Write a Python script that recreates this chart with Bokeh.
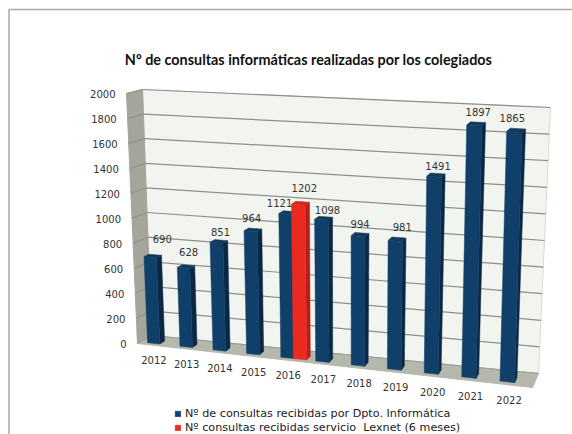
from bokeh.plotting import figure
from bokeh.embed import file_html
from bokeh.resources import INLINE
from bokeh.models import Range1d, Legend, LegendItem
from bokeh.core.properties import value as bv

title_text = "Nº de consultas informáticas realizadas por los colegiados"
years = ["2012","2013","2014","2015","2016","2017","2018","2019","2020","2021","2022"]
blue_values = [690,628,851,964,1121,1098,994,981,1491,1897,1865]
red_year = "2016"
red_value = 1202
y_ticks = [0,200,400,600,800,1000,1200,1400,1600,1800,2000]
blue_name = "Nº de consultas recibidas por Dpto. Informática"
red_name = "Nº consultas recibidas servicio  Lexnet (6 meses)"

# ----- layout (page pixels) -----
W, H = 572, 434
FBL, FBR, FTL, FTR = (137,343), (532,387), (126,93), (540,117)
BBL, BBR, BTL, BTR = (151,335), (538,373), (142,89), (550,107)
VMAX = 2000
T0, T1, K = 0.0184, 0.9537, 1.1
BAR_W, D0, D1 = 0.38, 0.20, 0.55

def lerp(a, b, t):
    return (a[0]+(b[0]-a[0])*t, a[1]+(b[1]-a[1])*t)

def warp(t):
    s = t/10.4
    return T0+(T1-T0)*s/(s+K*(1-s))

def proj_u(u, v, d):
    """u along the category edge (0-1), v value, d depth (0 front, 1 back)."""
    f = lerp(lerp(FBL, FBR, u), lerp(FTL, FTR, u), v/VMAX)
    b = lerp(lerp(BBL, BBR, u), lerp(BTL, BTR, u), v/VMAX)
    return lerp(f, b, d)

def proj(t, v, d):
    return proj_u(warp(t), v, d)

def quad(pts):
    return [q[0] for q in pts], [q[1] for q in pts]

p = figure(width=W, height=H, output_backend="svg", toolbar_location=None,
           x_range=Range1d(0, W), y_range=Range1d(H, 0), min_border=0)
p.axis.visible = False
p.grid.visible = False
p.outline_line_color = None
p.background_fill_color = "white"
p.border_fill_color = "white"

# outer frame
p.line([8.5,8.5,W],[H,9,9], line_color="#a8a8a8", line_width=1.5)

# walls and floor
xs,ys = quad([proj_u(0,0,1),proj_u(1,0,1),proj_u(1,VMAX,1),proj_u(0,VMAX,1)])
p.patch(xs,ys,fill_color="#f2f5ef",line_color="#d8dad4",line_width=1)
xs,ys = quad([proj_u(0,0,0),proj_u(0,0,1),proj_u(0,VMAX,1),proj_u(0,VMAX,0)])
p.patch(xs,ys,fill_color="#a5a59b",line_color="#a5a59b",line_width=1)
xs,ys = quad([proj_u(0,0,0),proj_u(1,0,0),proj_u(1,0,1),proj_u(0,0,1)])
p.patch(xs,ys,fill_color="#b5b8ad",line_color="#b5b8ad",line_width=1)

# gridlines
for t in y_ticks:
    a, b, c = proj_u(0,t,0), proj_u(0,t,1), proj_u(1,t,1)
    if t:
        p.line([a[0],b[0]],[a[1],b[1]],line_color="#8c8c84",line_width=1)
        p.line([b[0],c[0]],[b[1],c[1]],line_color="#8f8f88",line_width=1.2)
    else:
        p.line([a[0],b[0],c[0]],[a[1],b[1],c[1]],line_color="#9a9a92",line_width=1)

def bar(t, v, front, side, top):
    a = proj(t,0,D0); b = proj(t+BAR_W,0,D0); c = proj(t+BAR_W,v,D0); d = proj(t,v,D0)
    e = proj(t+BAR_W,0,D1); f = proj(t+BAR_W,v,D1); g = proj(t,v,D1)
    xs,ys = quad([b,e,f,c]); p.patch(xs,ys,fill_color=side,line_color=side,line_width=0.5)
    xs,ys = quad([d,c,f,g]); p.patch(xs,ys,fill_color=top,line_color=top,line_width=0.5)
    xs,ys = quad([a,b,c,d])
    return p.patch(xs,ys,fill_color=front,line_color=front,line_width=0.5)

BLUE, RED = "#10406a", "#ea2a20"
blue_r = None
red_r = None
for i,(yr,v) in enumerate(zip(years,blue_values)):
    r = bar(i, v, BLUE, "#0a2744", "#12385c")
    blue_r = blue_r or r
    if yr == red_year:
        red_r = bar(i+0.36, red_value, RED, "#b51f1a", "#d0261e")

FONT = bv("DejaVu Sans")
# value axis labels
p.text([proj_u(0,t,0)[0] for t in y_ticks],[proj_u(0,t,0)[1] for t in y_ticks],
       text=[str(t) for t in y_ticks], text_font=FONT, text_font_size="10px", text_color="#333333",
       text_align="right", text_baseline="middle", x_offset=-11, y_offset=0)

# year labels
for i,yr in enumerate(years):
    x,y = proj(i+BAR_W/2,0,0)
    p.text([x],[y],text=[yr],text_font=FONT,text_font_size="10px",text_color="#333333",
           text_align="center",text_baseline="middle",x_offset=3,y_offset=15.5)

# data labels (nudges)
label_dx = [12,5,4,1,-6,6,2,7,4,4,-2]
label_dy = [-18,-16,-11,-13,-11,-10,-12,-14,-11,-13,-14]
for i,v in enumerate(blue_values):
    x,y = proj(i+BAR_W/2,v,D0)
    p.text([x],[y],text=[str(v)],text_font=FONT,text_font_size="10px",text_color="#333333",
           text_align="center",text_baseline="middle",x_offset=label_dx[i],y_offset=label_dy[i])
x,y = proj(years.index(red_year)+0.36+BAR_W/2,red_value,D0)
p.text([x],[y],text=[str(red_value)],text_font=FONT,text_font_size="10px",text_color="#333333",
       text_align="center",text_baseline="middle",x_offset=6,y_offset=-17)

# title
p.text([308],[59],text=[title_text],text_font=bv("Lato"),text_font_size="14.4px",
       text_font_style="bold",text_color="#111111",text_align="center",text_baseline="middle")

legend = Legend(items=[LegendItem(label=blue_name,renderers=[blue_r]),
                       LegendItem(label=red_name,renderers=[red_r])],
                location=(174,0), orientation="vertical", background_fill_alpha=0,
                border_line_color=None, padding=2, margin=0, spacing=1,
                glyph_width=7, glyph_height=7, label_standoff=4,
                label_text_font="DejaVu Sans", label_text_font_size="11.2px", label_text_color="#222222",
                label_height=13)
p.add_layout(legend)

open("out.html","w").write(file_html(p, INLINE))
